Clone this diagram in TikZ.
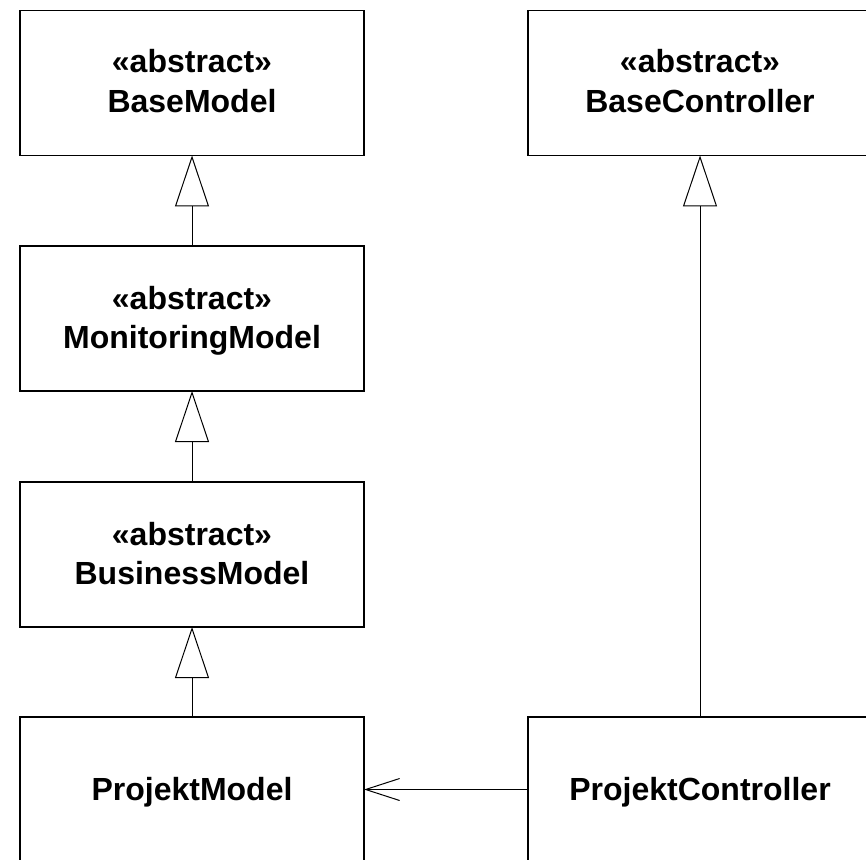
\documentclass[tikz,border=0pt]{standalone}
\usepackage{fontspec}
\setmainfont{Liberation Sans}
\usetikzlibrary{arrows.meta}
\begin{document}
\begin{tikzpicture}[x=0.75pt,y=-0.75pt,
  classbox/.style={draw=black, line width=1pt, minimum width=258pt,
    minimum height=108.75pt, inner sep=0pt, outer sep=0pt, fill=white},
  classtext/.style={font=\fontsize{24pt}{30pt}\selectfont\bfseries,
    inner sep=0pt, anchor=base},
  inherit/.style={line width=0.75pt,
    -{Triangle[open, length=38.25pt, width=25.5pt, fill=white]}},
  assoc/.style={line width=0.75pt,
    -{Straight Barb[length=25.5pt, width=16.5pt]}}]
  \clip (0,0) rectangle (866,859);

  % model hierarchy
  \node[classbox] (base) at (192,83) {};
  \node[classtext] (baseSt) at (192,73) {«abstract»};
  \node[classtext] (baseName) at (192,113) {BaseModel};

  \node[classbox] (mon) at (192,318.5) {};
  \node[classtext] (monSt) at (192,309) {«abstract»};
  \node[classtext] (monName) at (192,348.5) {MonitoringModel};

  \node[classbox] (bus) at (192,554.5) {};
  \node[classtext] (busSt) at (192,545) {«abstract»};
  \node[classtext] (busName) at (192,584.5) {BusinessModel};

  \node[classbox] (pm) at (192,789.5) {};
  \node[classtext] (pmName) at (192,800.5) {ProjektModel};

  % controller hierarchy
  \node[classbox] (bc) at (700,83) {};
  \node[classtext] (bcSt) at (700,73) {«abstract»};
  \node[classtext] (bcName) at (700,113) {BaseController};

  \node[classbox] (pc) at (700,789.5) {};
  \node[classtext] (pcName) at (700,800.5) {ProjektController};

  % generalisations
  \draw[inherit] (mon.north) -- (base.south);
  \draw[inherit] (bus.north) -- (mon.south);
  \draw[inherit] (pm.north) -- (bus.south);
  \draw[inherit] (pc.north) -- (bc.south);

  % association
  \draw[assoc] (pc.west) -- (pm.east);
\end{tikzpicture}
\end{document}
